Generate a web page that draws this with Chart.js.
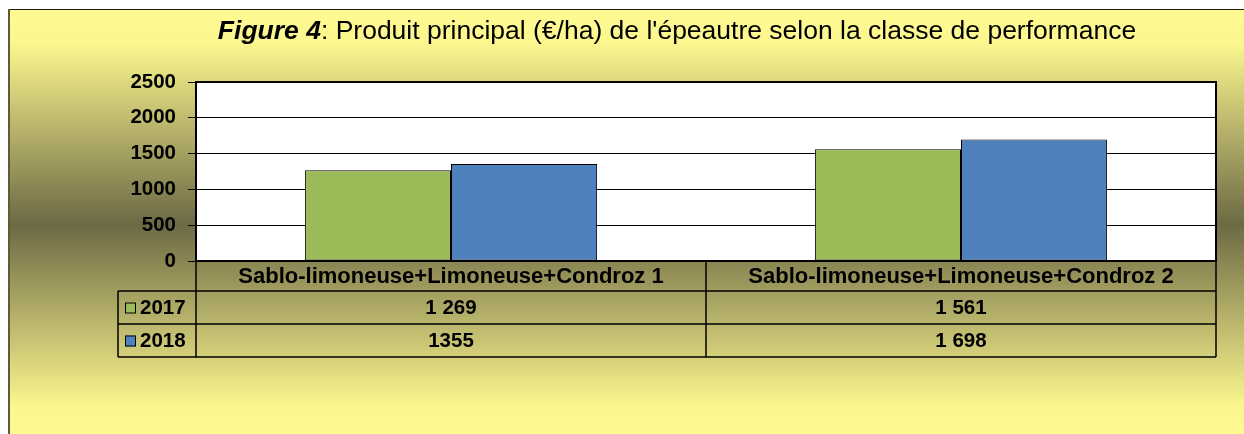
<!DOCTYPE html>
<html>
<head>
<meta charset="utf-8">
<script src="https://cdn.jsdelivr.net/npm/chart.js@4/dist/chart.umd.min.js"></script>
<style>
  html, body { margin: 0; padding: 0; background: #ffffff; }
  canvas { display: block; }
</style>
</head>
<body>
<canvas id="c" width="1244" height="434"></canvas>
<script>
// ---- data ----
const categories = ['Sablo-limoneuse+Limoneuse+Condroz 1', 'Sablo-limoneuse+Limoneuse+Condroz 2'];
const seriesNames = ['2017', '2018'];
const values2017 = [1269, 1561];
const values2018 = [1355, 1698];
const tableLabels2017 = ['1 269', '1 561'];
const tableLabels2018 = ['1355', '1 698'];
const yTicks = [0, 500, 1000, 1500, 2000, 2500];
const titleBold = 'Figure 4';
const titleRest = ": Produit principal (€/ha) de l'épeautre selon la classe de performance";

const GREEN = '#9bbb59';
const BLUE = '#4f81bd';
const FONT = '"Liberation Sans", Arial, sans-serif';

const backgroundPlugin = {
  id: 'bg',
  beforeDraw(chart) {
    const ctx = chart.ctx;
    const W = chart.width, H = chart.height;
    ctx.save();
    ctx.fillStyle = '#ffffff';
    ctx.fillRect(0, 0, W, H);
    const g = ctx.createLinearGradient(0, 9, 0, 440);
    g.addColorStop(0, '#fffb92');
    g.addColorStop(0.08, '#fbf68e');
    g.addColorStop(0.5, '#6d6944');
    g.addColorStop(0.92, '#fbf68e');
    g.addColorStop(1, '#fffb92');
    ctx.fillStyle = g;
    ctx.fillRect(8, 9, W - 8, H - 9);
    // frame
    ctx.strokeStyle = '#1e1c10';
    ctx.lineWidth = 1;
    ctx.beginPath();
    ctx.moveTo(8, 9.5); ctx.lineTo(W, 9.5);
    ctx.stroke();
    ctx.strokeStyle = '#5f5b3a';
    ctx.lineWidth = 2;
    ctx.beginPath();
    ctx.moveTo(9, 9); ctx.lineTo(9, H);
    ctx.stroke();
    // plot area
    const a = chart.chartArea;
    ctx.fillStyle = '#ffffff';
    ctx.fillRect(a.left, a.top, a.right - a.left, a.bottom - a.top);
    // title
    ctx.fillStyle = '#000000';
    ctx.textBaseline = 'alphabetic';
    const TS = 26.5;
    ctx.font = 'italic bold ' + TS + 'px ' + FONT;
    const w1 = ctx.measureText(titleBold).width;
    ctx.font = TS + 'px ' + FONT;
    const w2 = ctx.measureText(titleRest).width;
    let x = 677 - (w1 + w2) / 2;
    ctx.font = 'italic bold ' + TS + 'px ' + FONT;
    ctx.textAlign = 'left';
    ctx.fillText(titleBold, x, 39);
    ctx.font = TS + 'px ' + FONT;
    ctx.fillText(titleRest, x + w1, 39);
    ctx.restore();
  }
};

const framePlugin = {
  id: 'frame',
  afterDraw(chart) {
    const ctx = chart.ctx;
    const a = chart.chartArea;
    const xs = chart.scales.x;
    ctx.save();
    // plot border
    ctx.strokeStyle = '#000';
    ctx.lineWidth = 2;
    ctx.strokeRect(a.left, a.top, a.right - a.left, a.bottom - a.top);

    // data table
    const top = a.bottom;
    const r1 = top + 30, r2 = top + 63, r3 = top + 96;
    const legLeft = a.left - 78;
    const mid = (xs.getPixelForValue(0) + xs.getPixelForValue(1)) / 2;
    ctx.lineWidth = 1.5;
    ctx.beginPath();
    [r1, r2, r3].forEach(y => { ctx.moveTo(legLeft, y); ctx.lineTo(a.right, y); });
    ctx.moveTo(a.left, top); ctx.lineTo(a.left, r3);
    ctx.moveTo(mid, top); ctx.lineTo(mid, r3);
    ctx.moveTo(a.right, top); ctx.lineTo(a.right, r3);
    ctx.moveTo(legLeft, r1); ctx.lineTo(legLeft, r3);
    ctx.stroke();

    ctx.fillStyle = '#000';
    ctx.textAlign = 'center';
    ctx.textBaseline = 'middle';
    ctx.font = 'bold 22px ' + FONT;
    categories.forEach((c, i) => {
      ctx.fillText(c, xs.getPixelForValue(i), (top + r1) / 2 + 1);
    });
    ctx.font = 'bold 20.5px ' + FONT;
    tableLabels2017.forEach((t, i) => {
      ctx.fillText(t, xs.getPixelForValue(i), (r1 + r2) / 2 + 1);
    });
    tableLabels2018.forEach((t, i) => {
      ctx.fillText(t, xs.getPixelForValue(i), (r2 + r3) / 2 + 1);
    });
    // legend keys
    const colors = [GREEN, BLUE];
    const rows = [(r1 + r2) / 2, (r2 + r3) / 2];
    seriesNames.forEach((n, i) => {
      const cy = rows[i];
      ctx.fillStyle = colors[i];
      ctx.fillRect(legLeft + 7, cy - 5, 11, 11);
      ctx.strokeStyle = '#000';
      ctx.lineWidth = 1;
      ctx.strokeRect(legLeft + 7.5, cy - 4.5, 10, 10);
      ctx.fillStyle = '#000';
      ctx.textAlign = 'left';
      ctx.fillText(n, legLeft + 22, cy + 1);
    });
    ctx.restore();
  }
};

new Chart(document.getElementById('c'), {
  type: 'bar',
  data: {
    labels: categories,
    datasets: [
      { label: seriesNames[0], data: values2017, backgroundColor: GREEN, borderColor: '#000', borderWidth: 1, borderSkipped: false },
      { label: seriesNames[1], data: values2018, backgroundColor: BLUE, borderColor: '#000', borderWidth: 1, borderSkipped: false }
    ]
  },
  options: {
    responsive: false,
    devicePixelRatio: 1,
    animation: false,
    layout: { padding: { top: 82, right: 28, bottom: 173, left: 0 } },
    plugins: { legend: { display: false }, title: { display: false }, tooltip: { enabled: false } },
    datasets: { bar: { categoryPercentage: 0.573, barPercentage: 1.0 } },
    scales: {
      x: { display: false, offset: true },
      y: {
        min: 0, max: 2500,
        afterBuildTicks(s) { s.ticks = yTicks.map(v => ({ value: v })); },
        afterFit(s) { s.width = 196; },
        border: { display: false },
        grid: { color: '#000', lineWidth: 1, tickLength: 8, drawTicks: true, tickColor: '#000' },
        ticks: {
          color: '#000', padding: 12,
          font: { family: FONT, size: 20.5, weight: 'bold' },
          callback: (v) => String(v)
        }
      }
    }
  },
  plugins: [backgroundPlugin, framePlugin]
});
</script>
</body>
</html>
